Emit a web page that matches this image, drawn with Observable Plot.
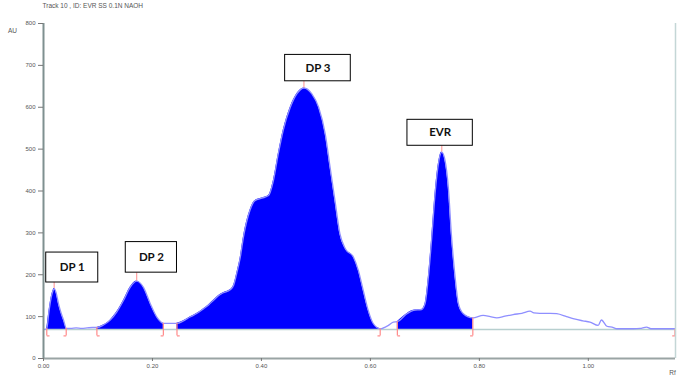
<!DOCTYPE html>
<html>
<head>
<meta charset="utf-8">
<script src="https://cdn.jsdelivr.net/npm/d3@7"></script>
<script src="https://cdn.jsdelivr.net/npm/@observablehq/plot@0.6"></script>
<style>
  html, body { margin: 0; padding: 0; background: #fff; }
  #chart svg { display: block; }
</style>
</head>
<body>
<div id="chart"></div>
<script>
// ---- Data ----
const title = "Track 10 , ID: EVR SS 0.1N NAOH";
const yTicks = [0, 100, 200, 300, 400, 500, 600, 700, 800];
const xTicks = [0, 0.2, 0.4, 0.6, 0.8, 1.0];
const xTickLabels = ["0.00", "0.20", "0.40", "0.60", "0.80", "1.00"];

const rf = [0,0.006,0.010,0.014,0.017,0.0196,0.023,0.0275,0.032,0.037,
  0.0417,0.05,0.06,0.07,0.08,0.09,0.098,0.11,0.122,0.135,
  0.147,0.159,0.171,0.1835,0.196,0.208,0.215,0.220,0.232,0.245,
  0.257,0.269,0.282,0.294,0.303,0.312,0.321,0.330,0.3426,0.349,
  0.355,0.361,0.367,0.379,0.388,0.401,0.413,0.422,0.431,0.440,
  0.453,0.465,0.478,0.4925,0.505,0.517,0.526,0.535,0.544,0.554,
  0.569,0.578,0.587,0.596,0.6055,0.618,0.633,0.642,0.6495,0.667,
  0.679,0.694,0.7004,0.7064,0.7127,0.7187,0.7248,0.731,0.737,0.743,
  0.749,0.7555,0.7615,0.7706,0.788,0.807,0.82,0.832,0.847,0.862,
  0.878,0.893,0.90,0.911,0.93,0.942,0.96,0.972,0.99,1.003,
  1.018,1.024,1.034,1.046,1.052,1.07,1.083,1.095,1.107,1.115,
  1.125,1.14,1.159];
const au = [69,71,112,145,160,167,158,131,110,91,
  72,72,73,72,73,74,74,80,91,112,
  139,170,185,170,131,99,88,84,84,84,
  90,99,108,119,128,139,150,157,164,175,
  205,240,290,354,377,383,389,425,489,545,
  600,632,646,632,600,537,457,377,298,262,
  242,210,162,115,83,71,79,87,88,107,
  115,117,131,194,290,393,465,493,473,409,
  290,194,131,107,97,103,100,97,101,105,
  108,113,109,108,108,107,100,95,90,87,
  79,92,77,74,71,71,71,72,75,71,
  71,71,71];

const baselineAU = 69;
const peakNames = ["DP 1", "DP 2", "DP 3", "EVR"];
const peakStart = [0.006, 0.098, 0.245, 0.6495];
const peakEnd   = [0.0417, 0.220, 0.618, 0.788];
const peakRf    = [0.0196, 0.171, 0.478, 0.731];
const peakAU    = [167, 185, 646, 493];
// label boxes (Rf / AU extents)
const boxX1 = [0.005, 0.151, 0.4435, 0.668];
const boxX2 = [0.1005, 0.245, 0.564, 0.788];
const boxY1 = [181.5, 205, 662, 508];
const boxY2 = [253, 278, 725, 570];

// ---- Build tables ----
const curve = rf.map((x, i) => ({rf: x, au: au[i]}));
const auAt = x => curve.find(d => Math.abs(d.rf - x) < 1e-9).au;
const regions = [];
peakNames.forEach((name, k) => {
  curve.filter(d => d.rf >= peakStart[k] - 1e-9 && d.rf <= peakEnd[k] + 1e-9)
       .forEach(d => regions.push({...d, peak: name}));
});
const bounds = [];
peakNames.forEach((name, k) => {
  bounds.push({rf: peakStart[k], top: auAt(peakStart[k]), dir: 1});
  bounds.push({rf: peakEnd[k], top: auAt(peakEnd[k]), dir: -1});
});
bounds.push({rf: 1.159, top: baselineAU, dir: -1});
const boxes = peakNames.map((n, k) => ({name: n, x1: boxX1[k], x2: boxX2[k], y1: boxY1[k], y2: boxY2[k], rf: peakRf[k], au: peakAU[k]}));

const blue = "#0000ff";
const lav = "#8f8fff";
const red = "#ff8a8a";

const chart = Plot.plot({
  width: 696,
  height: 383,
  marginLeft: 43,
  marginRight: 21,
  marginTop: 23,
  marginBottom: 25,
  style: {fontFamily: "'Liberation Sans', Arial, sans-serif", fontSize: "6px", color: "#555", background: "#fff"},
  x: {domain: [0, 1.16], axis: null},
  y: {domain: [0, 800], axis: null},
  marks: [
    // integrated areas
    Plot.areaY(regions, {x: "rf", y1: baselineAU, y2: "au", z: "peak", fill: blue, curve: "monotone-x"}),
    // baseline
    Plot.ruleY([baselineAU], {x1: 0, x2: 1.16, stroke: "#b7cfcf", strokeWidth: 1.5}),
    // full densitogram trace
    Plot.line(curve, {x: "rf", y: "au", stroke: lav, strokeWidth: 1.3, curve: "monotone-x"}),
    // integration boundary markers
    Plot.ruleX(bounds, {x: "rf", y1: 54, y2: "top", stroke: red, strokeWidth: 1.2}),
    Plot.link(bounds, {x1: "rf", x2: d => d.rf + d.dir * 0.005, y1: 54, y2: 54, stroke: red, strokeWidth: 1.2}),
    // peak markers
    Plot.ruleX(boxes, {x: "rf", y1: "au", y2: "y1", stroke: "#ffa0a0", strokeWidth: 1.2}),
    // label boxes
    Plot.rect(boxes, {x1: "x1", x2: "x2", y1: "y1", y2: "y2", fill: "white", stroke: "black", strokeWidth: 1}),
    Plot.text(boxes, {x: d => (d.x1 + d.x2) / 2, y: d => (d.y1 + d.y2) / 2, text: "name", fontFamily: "Lato, 'Open Sans', sans-serif", fontWeight: "bold", fontSize: 11.5, fill: "#111"}),
    // frame lines
    Plot.ruleX([1.16], {y1: 0, y2: 800, stroke: "#c4d6d6", strokeWidth: 1.5}),
    Plot.ruleY([0], {x1: 0, x2: 1.16, stroke: "#9aa4a4", strokeWidth: 2}),
    Plot.ruleX([0], {y1: 0, y2: 800, stroke: "#7f9090", strokeWidth: 2}),
    // axes
    Plot.axisY({ticks: yTicks, tickSize: 5, tickPadding: 3, stroke: "#777", fill: "#555", fontSize: 6}),
    Plot.axisX({ticks: xTicks, tickFormat: (d, i) => xTickLabels[i], tickSize: 3, tickPadding: 2, stroke: "#777", fill: "#555", fontSize: 6}),
    // texts
    Plot.text([title], {frameAnchor: "top-left", dx: -1, dy: -18, lineAnchor: "middle", textAnchor: "start", fill: "#555", fontSize: 6.5}),
    Plot.text(["AU"], {frameAnchor: "top-left", dx: -31, dy: 7, lineAnchor: "middle", textAnchor: "middle", fill: "#555", fontSize: 6.5}),
    Plot.text(["Rf"], {frameAnchor: "bottom-right", dx: -3, dy: 14, lineAnchor: "middle", textAnchor: "middle", fill: "#555", fontSize: 6.5})
  ]
});
document.getElementById("chart").append(chart);
</script>
</body>
</html>
